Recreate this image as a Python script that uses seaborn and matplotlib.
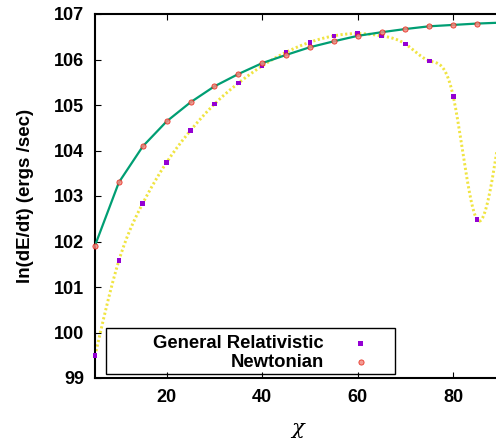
import numpy as np
import pandas as pd
import seaborn as sns
import matplotlib
matplotlib.use("Agg")
import matplotlib.pyplot as plt
from matplotlib.patches import Rectangle

chi = [5, 10, 15, 20, 25, 30, 35, 40, 45, 50, 55, 60, 65, 70, 75, 80, 85, 90]
newtonian = [101.91, 103.30, 104.09, 104.64, 105.06, 105.41, 105.68, 105.92, 106.10,
             106.27, 106.40, 106.52, 106.60, 106.67, 106.73, 106.76, 106.79, 106.81]
general_rel = [99.49, 101.58, 102.84, 103.74, 104.44, 105.02, 105.48, 105.86, 106.16,
               106.38, 106.52, 106.57, 106.52, 106.34, 105.97, 105.19, 102.48, 104.6]
labels = ["General Relativistic", "Newtonian"]
xticks = [20, 40, 60, 80]
yticks = [99, 100, 101, 102, 103, 104, 105, 106, 107]

sns.set_theme(style="white")
plt.rcParams['font.family'] = ['Liberation Sans', 'DejaVu Sans']
plt.rcParams.update({"text.color": "black", "axes.labelcolor": "black",
                     "xtick.color": "black", "ytick.color": "black"})


def natural_spline(x, y, n=600):
    x = np.asarray(x, float); y = np.asarray(y, float)
    k = len(x); h = np.diff(x)
    A = np.zeros((k, k)); r = np.zeros(k)
    A[0, 0] = A[-1, -1] = 1
    for i in range(1, k - 1):
        A[i, i - 1] = h[i - 1]; A[i, i] = 2 * (h[i - 1] + h[i]); A[i, i + 1] = h[i]
        r[i] = 3 * ((y[i + 1] - y[i]) / h[i] - (y[i] - y[i - 1]) / h[i - 1])
    c = np.linalg.solve(A, r)
    b = (y[1:] - y[:-1]) / h - h * (2 * c[:-1] + c[1:]) / 3
    d = (c[1:] - c[:-1]) / (3 * h)
    xs = np.linspace(x[0], x[-1], n)
    idx = np.clip(np.searchsorted(x, xs) - 1, 0, k - 2)
    dx = xs - x[idx]
    ys = y[idx] + b[idx] * dx + c[idx] * dx ** 2 + d[idx] * dx ** 3
    return xs, ys


W, H = 496, 438
fig = plt.figure(figsize=(W / 100, H / 100), dpi=100)
ax = fig.add_axes([95 / W, 1 - 378 / H, (501 - 95) / W, (378 - 14) / H])

df = pd.DataFrame({"chi": chi, "newt": newtonian, "gr": general_rel})
xs, ys = natural_spline(chi, general_rel)
sm = pd.DataFrame({"chi": xs, "gr": ys})

sns.lineplot(data=sm, x="chi", y="gr", ax=ax, color="#f0e442", lw=2.1,
             linestyle=(0, (0.75, 0.85)), sort=False, zorder=2)
sns.lineplot(data=df, x="chi", y="newt", ax=ax, color="#009e73", lw=1.6,
             sort=False, zorder=3)
sns.scatterplot(data=df, x="chi", y="gr", ax=ax, marker="s", s=11, color="#9400d3",
                edgecolor="none", zorder=4, clip_on=False, label=labels[0])
sns.scatterplot(data=df, x="chi", y="newt", ax=ax, marker="o", s=14,
                facecolor="#f28a80", edgecolor="#e51e10", linewidth=0.6, alpha=0.85,
                zorder=5, clip_on=False, label=labels[1])

ax.set_xlim(5, 90)
ax.set_ylim(99, 107)
ax.set_xticks(xticks)
ax.set_yticks(yticks)
ax.tick_params(direction="in", length=4, width=0.8, color="black", labelcolor="black",
               top=True, bottom=True, left=True, right=False, labelsize=13, pad=8)
for t in ax.get_xticklabels() + ax.get_yticklabels():
    t.set_fontweight("bold")
for s in ax.spines.values():
    s.set_color("black"); s.set_linewidth(1.5)

ax.set_xlabel("χ", fontsize=15, labelpad=9, family=["DejaVu Serif"], style="italic",
              color="black")
ax.set_ylabel("ln(dE/dt) (ergs /sec)", fontsize=13.5, fontweight="bold", labelpad=14,
              color="black")

leg = ax.legend(loc="center right", bbox_to_anchor=(370 / W, 1 - 353 / H),
                bbox_transform=fig.transFigure, frameon=False, markerfirst=False,
                handlelength=1.0, handletextpad=1.5, borderpad=0, borderaxespad=0,
                labelspacing=0.1, prop={"weight": "bold", "size": 13.3},
                labelcolor="black")

fig.patches.append(Rectangle((106 / W, 1 - 374 / H), (395 - 106) / W, (374 - 328) / H,
                             transform=fig.transFigure, fill=True, facecolor="white",
                             edgecolor="black", lw=1.0, zorder=1))
ax.set_zorder(2)
ax.patch.set_alpha(0)

fig.savefig("out.png", dpi=100)
